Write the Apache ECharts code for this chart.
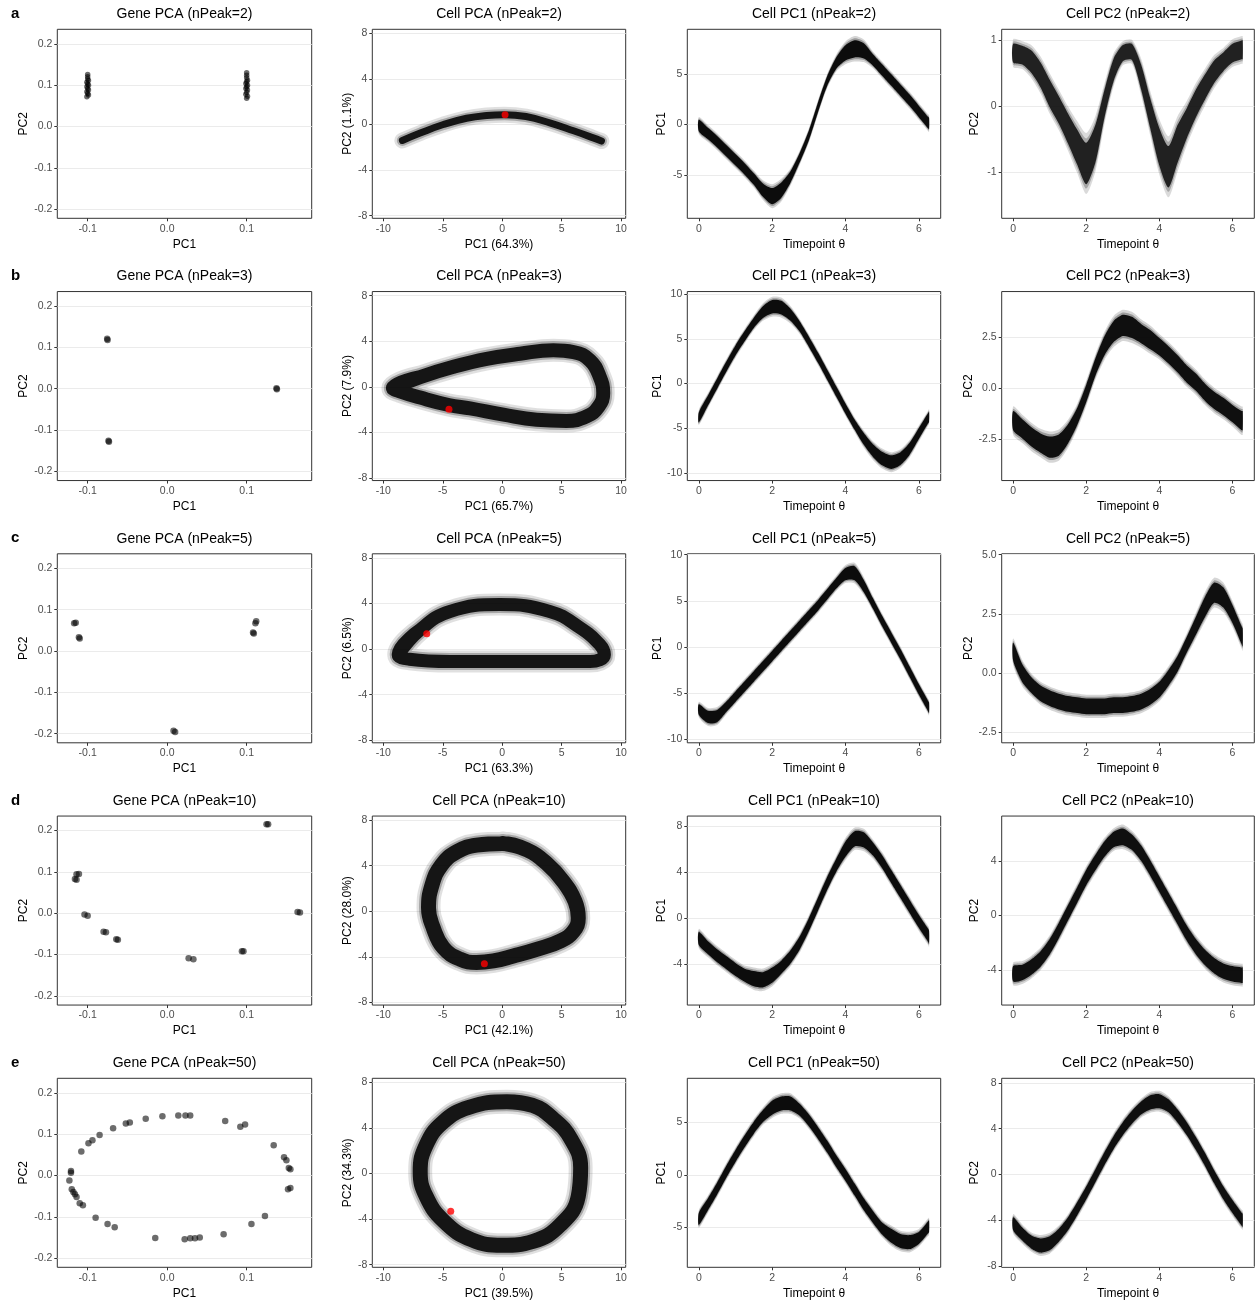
<!DOCTYPE html>
<html>
<head>
<meta charset="utf-8">
<script src="https://cdn.jsdelivr.net/npm/echarts@6/dist/echarts.min.js"></script>
<style>
html,body{margin:0;padding:0;background:#fff}
#chart{width:1256px;height:1302px}
</style>
</head>
<body>
<div id="chart"></div>
<script>
// ---------------- data ----------------
const THETA = [0,0.25,0.5,0.75,1,1.25,1.5,1.75,2,2.25,2.5,2.75,3,3.25,3.5,3.75,4,4.25,4.5,4.75,5,5.25,5.5,5.75,6,6.25,6.28];
const N_PEAKS = [2, 3, 5, 10, 50];
const ROW_TAGS = ['a','b','c','d','e'];
const PCT_PC1 = ['64.3','65.7','63.3','42.1','39.5'];
const PCT_PC2 = ['1.1','7.9','6.5','28.0','34.3'];

// gene loadings (PC1, PC2)
const GENE_A = [[-0.101,0.072],[-0.099,0.076],[-0.1,0.08],[-0.101,0.084],[-0.099,0.088],[-0.1,0.092],[-0.101,0.096],[-0.099,0.1],[-0.1,0.103],[-0.101,0.107],[-0.099,0.111],[-0.1,0.115],[-0.1,0.12],[-0.1,0.126],
  [0.1,0.068],[0.101,0.073],[0.099,0.078],[0.1,0.083],[0.101,0.088],[0.099,0.092],[0.1,0.096],[0.101,0.1],[0.099,0.104],[0.1,0.108],[0.101,0.112],[0.1,0.118],[0.1,0.124],[0.1,0.13]];
const GENE_B = [[-0.0755,0.121],[-0.075,0.118],[-0.0738,-0.126],[-0.0732,-0.128],[0.1375,0.001],[0.138,-0.001]];
const GENE_C = [[-0.117,0.067],[-0.115,0.068],[-0.111,0.033],[-0.11,0.03],[0.112,0.072],[0.111,0.067],[0.108,0.045],[0.109,0.042],[0.008,-0.193],[0.01,-0.196]];
const GENE_D = [[-0.114,0.094],[-0.111,0.095],[-0.116,0.083],[-0.114,0.081],[-0.104,-0.003],[-0.1,-0.006],[-0.08,-0.045],[-0.077,-0.046],[-0.064,-0.063],[-0.062,-0.064],[0.027,-0.109],[0.033,-0.111],[0.094,-0.092],[0.096,-0.092],[0.125,0.215],[0.127,0.215],[0.164,0.003],[0.167,0.002]];
const GENE_E = [[-0.123,-0.012],[-0.121,0.0106],[-0.121,0.0065],[-0.12,-0.033],[-0.118,-0.04],[-0.116,-0.0455],[-0.114,-0.052],[-0.11,-0.067],[-0.106,-0.072],[-0.108,0.058],[-0.099,0.078],[-0.094,0.085],[-0.085,0.098],[-0.068,0.114],[-0.052,0.126],[-0.047,0.128],[-0.027,0.137],[-0.006,0.143],[0.014,0.145],[0.023,0.145],[0.029,0.145],[0.073,0.132],[0.092,0.118],[0.098,0.123],[0.134,0.073],[0.147,0.044],[0.15,0.037],[0.153,0.018],[0.155,0.015],[0.152,-0.033],[0.155,-0.03],[0.123,-0.098],[0.106,-0.117],[0.071,-0.142],[0.041,-0.15],[0.035,-0.152],[0.029,-0.152],[0.022,-0.154],[-0.015,-0.151],[-0.066,-0.125],[-0.075,-0.117],[-0.09,-0.102]];

// cell trajectories in PC space (centre line of the cell cloud)
const CELL_A = [[-8.4,-1.4],[-6.9,-0.75],[-4.95,0.0],[-3.0,0.55],[-1.3,0.8],[0.2,0.87],[2.0,0.7],[4.0,0.15],[6.0,-0.55],[7.6,-1.15],[8.35,-1.45]];
const CELL_B = [[-9.2,-0.1],[-6.9,0.85],[-4.1,1.75],[-1.3,2.45],[1.5,2.9],[4.3,3.2],[6.0,3.05],[7.4,2.3],[8.2,0.9],[8.5,-0.55],[8.1,-1.75],[7.1,-2.6],[5.4,-3.0],[2.9,-2.9],[0.1,-2.45],[-2.7,-1.9],[-4.5,-1.6],[-6.9,-0.95],[-8.6,-0.4]];
const CELL_C = [[-8.75,-0.48],[-6.9,1.7],[-4.4,3.3],[-0.2,3.9],[4.0,3.3],[6.5,1.9],[8.2,0.4],[8.6,-0.5],[7.4,-1.1],[4.0,-1.1],[-0.2,-1.1],[-4.4,-1.1],[-7.8,-0.9]];
const CELL_D = [[0,5.96],[2.06,5.4],[3.74,4.2],[5.15,2.6],[6.13,0.87],[6.4,-0.58],[6.0,-1.75],[4.9,-2.6],[2.9,-3.35],[0.94,-3.93],[-0.74,-4.36],[-2.15,-4.5],[-3.55,-4.2],[-4.95,-3.2],[-5.8,-1.45],[-6.2,0.29],[-5.9,2.33],[-5.1,4.07],[-3.8,5.24],[-2.15,5.8]];
const CELL_E = [[0.4,6.3],[2.5,6.0],[4.3,4.8],[5.8,3.0],[6.6,0.5],[6.4,-2.0],[4.9,-4.5],[2.6,-5.95],[0.0,-6.3],[-2.6,-5.8],[-4.9,-4.2],[-6.4,-2.0],[-6.9,0.2],[-6.4,2.5],[-5.0,4.5],[-2.8,5.8]];
// first cell (θ = 0)
const START = [[0.24,0.87],[-4.48,-1.98],[-6.35,1.35],[-1.5,-4.6],[-4.33,-3.32]];

// PC scores against θ: centre and half spread of the cloud
const PC1_MID = [
  [-0.1,-0.9,-1.7,-2.6,-3.5,-4.4,-5.4,-6.5,-7.1,-6.5,-5.2,-3.3,-1.1,1.7,4.3,6.1,7.1,7.5,7.3,6.4,5.4,4.4,3.4,2.4,1.3,0.2,0.1],
  [-3.8,-1.9,0.0,1.9,3.7,5.3,6.8,8.0,8.6,8.5,7.7,6.4,4.7,2.9,1.0,-0.9,-2.8,-4.6,-6.2,-7.5,-8.4,-8.8,-8.4,-7.3,-5.6,-3.9,-3.7],
  [-6.8,-7.6,-7.5,-6.5,-5.4,-4.3,-3.2,-2.1,-1.0,0.1,1.2,2.3,3.4,4.5,5.7,6.9,7.9,8.0,6.6,4.7,2.8,1.0,-0.8,-2.7,-4.6,-6.4,-6.6],
  [-1.8,-2.6,-3.3,-3.9,-4.5,-5.0,-5.3,-5.4,-5.0,-4.3,-3.4,-2.2,-0.6,1.2,3.0,4.6,6.0,6.9,6.8,6.0,4.9,3.6,2.3,1.0,-0.3,-1.5,-1.7],
  [-4.2,-2.8,-1.3,0.3,1.8,3.2,4.5,5.6,6.4,6.8,6.8,6.2,5.2,4.0,2.7,1.3,0.0,-1.4,-2.8,-4.0,-5.1,-5.8,-6.3,-6.4,-6.0,-5.0,-4.9]
];
const PC1_HALF = [
  [0.6,0.6,0.6,0.6,0.6,0.6,0.6,0.7,0.85,0.8,0.6,0.5,0.5,0.5,0.5,0.6,0.8,0.9,0.8,0.6,0.6,0.6,0.6,0.6,0.6,0.6,0.6],
  [0.6,0.6,0.6,0.6,0.6,0.6,0.6,0.7,0.8,0.8,0.7,0.6,0.6,0.6,0.6,0.6,0.6,0.6,0.7,0.75,0.8,0.8,0.75,0.7,0.65,0.6,0.6],
  [0.6,0.7,0.7,0.6,0.6,0.6,0.6,0.6,0.6,0.6,0.6,0.6,0.6,0.6,0.6,0.6,0.7,0.8,0.7,0.6,0.6,0.6,0.6,0.6,0.6,0.6,0.6],
  [0.6,0.6,0.6,0.6,0.6,0.6,0.7,0.7,0.7,0.6,0.6,0.6,0.6,0.6,0.6,0.6,0.7,0.7,0.7,0.6,0.6,0.6,0.6,0.6,0.6,0.6,0.6],
  [0.6,0.6,0.6,0.6,0.6,0.6,0.6,0.6,0.7,0.7,0.7,0.6,0.6,0.6,0.6,0.6,0.6,0.6,0.6,0.6,0.6,0.7,0.7,0.7,0.6,0.6,0.6]
];
const PC2_MID = [
  [0.8,0.77,0.67,0.47,0.19,-0.06,-0.34,-0.62,-0.87,-0.57,0.04,0.55,0.8,0.82,0.44,-0.11,-0.62,-0.92,-0.57,-0.26,0.04,0.29,0.52,0.67,0.8,0.85,0.85],
  [-1.6,-2.0,-2.4,-2.7,-2.9,-2.8,-2.25,-1.4,-0.25,1.05,2.1,2.8,3.1,3.0,2.7,2.4,2.05,1.65,1.2,0.7,0.3,-0.2,-0.6,-0.9,-1.25,-1.6,-1.6],
  [0.9,0.0,-0.5,-0.85,-1.05,-1.2,-1.3,-1.35,-1.4,-1.4,-1.4,-1.35,-1.35,-1.3,-1.2,-1.0,-0.7,-0.2,0.4,1.2,2.0,2.8,3.4,3.2,2.5,1.6,1.5],
  [-4.3,-4.2,-3.8,-3.2,-2.3,-1.1,0.2,1.5,2.8,3.9,4.9,5.6,5.8,5.4,4.6,3.5,2.3,1.1,-0.1,-1.3,-2.3,-3.1,-3.7,-4.1,-4.3,-4.4,-4.4],
  [-4.3,-5.2,-5.9,-6.2,-6.0,-5.3,-4.3,-3.0,-1.6,-0.1,1.4,2.8,4.0,5.0,5.8,6.3,6.4,6.0,5.1,4.0,2.7,1.3,-0.2,-1.6,-2.8,-3.9,-4.0]
];
const PC2_HALF = [
  [0.15,0.15,0.18,0.2,0.22,0.22,0.24,0.28,0.33,0.3,0.22,0.18,0.13,0.13,0.2,0.24,0.3,0.33,0.3,0.24,0.22,0.2,0.18,0.15,0.15,0.15,0.15],
  [0.5,0.5,0.5,0.5,0.55,0.55,0.5,0.45,0.45,0.45,0.5,0.55,0.55,0.55,0.5,0.5,0.45,0.45,0.45,0.45,0.45,0.45,0.45,0.45,0.45,0.5,0.5],
  [0.4,0.4,0.35,0.35,0.35,0.35,0.35,0.35,0.35,0.35,0.35,0.35,0.35,0.35,0.35,0.35,0.35,0.35,0.35,0.35,0.4,0.45,0.45,0.45,0.4,0.4,0.4],
  [0.6,0.6,0.6,0.6,0.6,0.6,0.6,0.6,0.6,0.6,0.6,0.6,0.65,0.6,0.6,0.6,0.6,0.6,0.6,0.6,0.6,0.6,0.6,0.6,0.6,0.6,0.6],
  [0.6,0.6,0.6,0.65,0.65,0.6,0.6,0.6,0.6,0.6,0.6,0.6,0.6,0.6,0.6,0.65,0.65,0.6,0.6,0.6,0.6,0.6,0.6,0.6,0.6,0.6,0.6]
];

// tick values
const TICKS_GENE_X = [-0.1, 0, 0.1];
const TICKS_GENE_Y = [-0.2, -0.1, 0, 0.1, 0.2];
const TICKS_CELL_X = [-10, -5, 0, 5, 10];
const TICKS_CELL_Y = [-8, -4, 0, 4, 8];
const TICKS_THETA = [0, 2, 4, 6];
const TICKS_PC1 = [[-5,0,5],[-10,-5,0,5,10],[-10,-5,0,5,10],[-4,0,4,8],[-5,0,5]];
const TICKS_PC2 = [[-1,0,1],[-2.5,0,2.5],[-2.5,0,2.5,5],[-4,0,4],[-8,-4,0,4,8]];
const DEC_PC2 = [0,1,1,0,0];

// ---------------- layout ----------------
const FONT = '"Liberation Sans", Arial, Helvetica, sans-serif';
const COL_LEFT = [57.3, 372.3, 687.3, 1001.7];
const COL_W = [254.4, 253.4, 253.4, 252.6];
const ROW_TOP0 = 29.3, ROW_STEP = 262.25, BOX_H = 189;
const LIM_GENE_X = [-0.1382, 0.1818], LIM_GENE_Y = [-0.222, 0.235];
const LIM_CELL_X = [-10.93, 10.39], LIM_CELL_Y = [-8.23, 8.36];
const LIM_THETA = [-0.314, 6.597];
const LIM_PC1 = [[-9.29, 9.43], [-10.86, 10.3], [-10.4, 10.1], [-7.6, 8.88], [-8.8, 9.2]];
const LIM_PC2 = [[-1.70, 1.162], [-4.55, 4.77], [-2.94, 5.04], [-6.6, 7.33], [-8.1, 8.4]];
const CELL_WIDTH = [7, 14, 13, 15, 15];
const Y_GAP = [28, 18, 20, 21];

function fmt(v, dec) {
  if (Math.abs(v) < 1e-9) v = 0;
  return v.toFixed(dec);
}

const grids = [], xAxes = [], yAxes = [], series = [], graphics = [];

function addPanel(r, c, cfg) {
  const gi = grids.length;
  const top = ROW_TOP0 + ROW_STEP * r;
  grids.push({left: COL_LEFT[c], top: top, width: COL_W[c], height: BOX_H,
    show: true, borderColor: '#333', borderWidth: 1, backgroundColor: 'transparent', containLabel: false});
  const common = {
    type: 'value', gridIndex: gi, nameLocation: 'middle',
    nameTextStyle: {color: '#000', fontSize: 12, fontFamily: FONT},
    axisLine: {show: false, onZero: false},
    splitLine: {show: false}
  };
  xAxes.push(Object.assign({}, common, {
    min: cfg.xlim[0], max: cfg.xlim[1], name: cfg.xname, nameGap: 20,
    axisTick: {show: true, length: 3, lineStyle: {color: '#333'}, customValues: cfg.xticks},
    axisLabel: {customValues: cfg.xticks, formatter: v => fmt(v, cfg.xdec), color: '#4d4d4d', fontSize: 10.5, margin: 5, fontFamily: FONT}
  }));
  yAxes.push(Object.assign({}, common, {
    min: cfg.ylim[0], max: cfg.ylim[1], name: cfg.yname, nameGap: Y_GAP[c],
    axisTick: {show: true, length: 3, lineStyle: {color: '#333'}, customValues: cfg.yticks},
    axisLabel: {customValues: cfg.yticks, formatter: v => fmt(v, cfg.ydec), color: '#4d4d4d', fontSize: 10.5, margin: 5, fontFamily: FONT},
    splitLine: {show: true, lineStyle: {color: '#ebebeb', width: 1}}
  }));
  graphics.push({type: 'text', x: COL_LEFT[c] + COL_W[c] / 2, y: top - 22, silent: true,
    style: {text: cfg.title, fill: '#000', font: '14px ' + FONT, textAlign: 'center', textVerticalAlign: 'top'}});
  return gi;
}

// cloud of cells against θ, drawn as a filled band between mid - half and mid + half
function bandSeries(gi, mid, half, opacity) {
  series.push({
    type: 'custom', xAxisIndex: gi, yAxisIndex: gi, silent: true, clip: true,
    data: THETA.map((t, i) => [t, mid[i] - half[i], mid[i] + half[i]]),
    renderItem: function (params, api) {
      if (params.dataIndex !== 0) return null;
      const ring = (k) => {
        const up = [], lo = [];
        for (let i = 0; i < THETA.length; i++) {
          up.push(api.coord([THETA[i], mid[i] + half[i] * k]));
          lo.push(api.coord([THETA[i], mid[i] - half[i] * k]));
        }
        return up.concat(lo.reverse());
      };
      return {type: 'group', children: [
        {type: 'polygon', shape: {points: ring(1.4), smooth: 0.25}, style: {fill: '#000', opacity: opacity * 0.18}},
        {type: 'polygon', shape: {points: ring(1.15), smooth: 0.25}, style: {fill: '#000', opacity: opacity * 0.3}},
        {type: 'polygon', shape: {points: ring(0.95), smooth: 0.25}, style: {fill: '#000', opacity: opacity}}
      ]};
    }
  });
}

const GENES = [GENE_A, GENE_B, GENE_C, GENE_D, GENE_E];
const CELLS = [CELL_A, CELL_B, CELL_C, CELL_D, CELL_E];

for (let r = 0; r < 5; r++) {
  const n = N_PEAKS[r];
  // gene PCA
  let gi = addPanel(r, 0, {title: 'Gene PCA (nPeak=' + n + ')', xname: 'PC1', yname: 'PC2',
    xlim: LIM_GENE_X, ylim: LIM_GENE_Y, xticks: TICKS_GENE_X, yticks: TICKS_GENE_Y, xdec: 1, ydec: 1});
  series.push({type: 'scatter', xAxisIndex: gi, yAxisIndex: gi, data: GENES[r], symbolSize: r === 0 ? 5.5 : 6.5,
    itemStyle: {color: 'rgba(0,0,0,0.72)'}, silent: true});

  // cell PCA
  gi = addPanel(r, 1, {title: 'Cell PCA (nPeak=' + n + ')', xname: 'PC1 (' + PCT_PC1[r] + '%)', yname: 'PC2 (' + PCT_PC2[r] + '%)',
    xlim: LIM_CELL_X, ylim: LIM_CELL_Y, xticks: TICKS_CELL_X, yticks: TICKS_CELL_Y, xdec: 0, ydec: 0});
  const path = r === 0 ? CELLS[r] : CELLS[r].concat([CELLS[r][0], CELLS[r][1]]);
  series.push({type: 'line', xAxisIndex: gi, yAxisIndex: gi, data: path, symbol: 'none', smooth: 0.45, silent: true,
    lineStyle: {color: '#000', width: CELL_WIDTH[r] + 9, opacity: 0.12, cap: 'round', join: 'round'}});
  series.push({type: 'line', xAxisIndex: gi, yAxisIndex: gi, data: path, symbol: 'none', smooth: 0.45, silent: true,
    lineStyle: {color: '#000', width: CELL_WIDTH[r] + 4, opacity: 0.25, cap: 'round', join: 'round'}});
  series.push({type: 'line', xAxisIndex: gi, yAxisIndex: gi, data: path, symbol: 'none', smooth: 0.45, silent: true,
    lineStyle: {color: '#000', width: CELL_WIDTH[r], opacity: 0.88, cap: 'round', join: 'round'}});
  series.push({type: 'scatter', xAxisIndex: gi, yAxisIndex: gi, data: [START[r]], symbolSize: 7, z: 5,
    itemStyle: {color: '#ff0000'}, silent: true});

  // PC1 vs θ
  gi = addPanel(r, 2, {title: 'Cell PC1 (nPeak=' + n + ')', xname: 'Timepoint θ', yname: 'PC1',
    xlim: LIM_THETA, ylim: LIM_PC1[r], xticks: TICKS_THETA, yticks: TICKS_PC1[r], xdec: 0, ydec: 0});
  bandSeries(gi, PC1_MID[r], PC1_HALF[r], 0.92);

  // PC2 vs θ
  gi = addPanel(r, 3, {title: 'Cell PC2 (nPeak=' + n + ')', xname: 'Timepoint θ', yname: 'PC2',
    xlim: LIM_THETA, ylim: LIM_PC2[r], xticks: TICKS_THETA, yticks: TICKS_PC2[r], xdec: 0, ydec: DEC_PC2[r]});
  bandSeries(gi, PC2_MID[r], PC2_HALF[r], r === 0 ? 0.8 : 0.9);

  graphics.push({type: 'text', x: 11, y: ROW_TOP0 + ROW_STEP * r - 23, silent: true,
    style: {text: ROW_TAGS[r], fill: '#000', font: 'bold 15px ' + FONT, textVerticalAlign: 'top'}});
}

const chart = echarts.init(document.getElementById('chart'), null, {renderer: 'canvas'});
chart.setOption({
  animation: false,
  backgroundColor: '#fff',
  textStyle: {fontFamily: FONT},
  grid: grids,
  xAxis: xAxes,
  yAxis: yAxes,
  series: series,
  graphic: graphics
});
</script>
</body>
</html>
